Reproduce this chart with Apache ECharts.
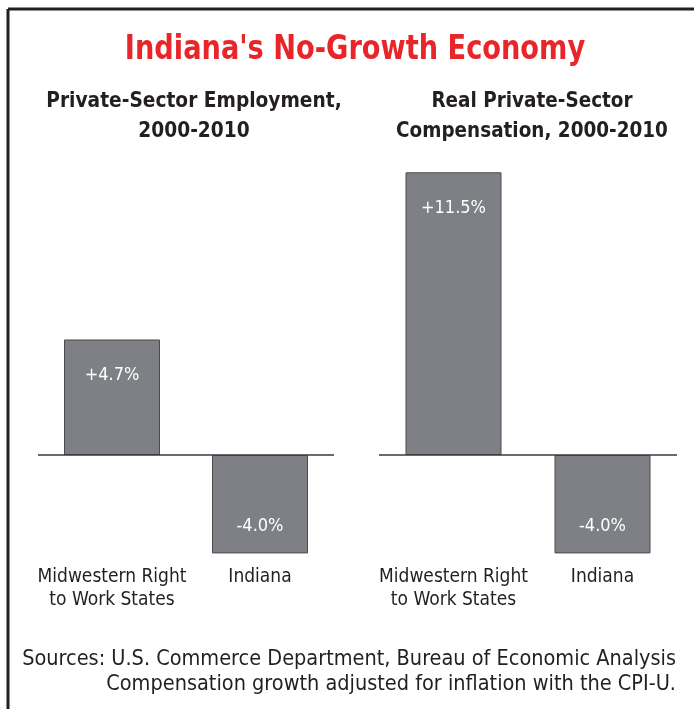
<!DOCTYPE html>
<html>
<head>
<meta charset="utf-8">
<script src="https://cdn.jsdelivr.net/npm/echarts@6/dist/echarts.min.js"></script>
<style>
html,body{margin:0;padding:0;background:#fff;}
#chart{width:694px;height:709px;}
</style>
</head>
<body>
<div id="chart"></div>
<script>
var categories = ['Midwestern Right\nto Work States', 'Indiana'];
var employmentValues = [4.7, -4.0];
var compensationValues = [11.5, -4.0];
var mainTitle = "Indiana's No-Growth Economy";
var leftSubtitle = 'Private-Sector Employment,\n2000-2010';
var rightSubtitle = 'Real Private-Sector\nCompensation, 2000-2010';
var sourceNote = 'Sources: U.S. Commerce Department, Bureau of Economic Analysis\nCompensation growth adjusted for inflation with the CPI-U.';

var FONT = "'Liberation Sans Narrow', 'DejaVu Sans Condensed', 'Arial Narrow', sans-serif";
var BAR = '#7f8085';
var INK = '#231f20';

function fmt(v) { return (v > 0 ? '+' : '') + v.toFixed(1) + '%'; }

function barData(vals) {
  return vals.map(function (v) {
    return {
      value: v,
      label: {
        position: v >= 0 ? 'insideTop' : 'insideBottom',
        distance: v >= 0 ? 27 : 18
      }
    };
  });
}

function barSeries(vals, idx) {
  return {
    type: 'bar',
    xAxisIndex: idx,
    yAxisIndex: idx,
    barWidth: 96,
    data: barData(vals),
    itemStyle: { color: BAR, borderColor: '#4a4a4d', borderWidth: 1 },
    label: {
      show: true,
      color: '#ffffff',
      fontFamily: FONT,
      fontSize: 18,
      formatter: function (p) { return fmt(p.value); }
    },
    markLine: {
      silent: true,
      symbol: 'none',
      label: { show: false },
      lineStyle: { color: '#3a3a3c', width: 1.5, type: 'solid' },
      data: [{ yAxis: 0 }]
    },
    animation: false
  };
}

function xAxis(idx) {
  return {
    type: 'category',
    gridIndex: idx,
    data: categories,
    axisLine: { show: false, onZero: false },
    axisTick: { show: false },
    axisLabel: {
      color: INK,
      fontFamily: FONT,
      fontSize: 19,
      lineHeight: 23,
      margin: -12,
      interval: 0
    }
  };
}
function yAxis(idx) {
  return {
    type: 'value',
    gridIndex: idx,
    min: -5,
    max: 12,
    show: false,
    splitLine: { show: false }
  };
}

function textEl(txt, x, y, font, fill, align, sx, lh) {
  return {
    type: 'text',
    x: x,
    y: y,
    scaleX: sx,
    style: {
      text: txt,
      font: font,
      fill: fill,
      align: align,
      verticalAlign: 'top',
      lineHeight: lh
    }
  };
}

var chart = echarts.init(document.getElementById('chart'), null, { renderer: 'canvas' });

chart.setOption({
  backgroundColor: '#ffffff',
  animation: false,
  grid: [
    { left: 38, width: 296, top: 160, bottom: 131 },
    { left: 379, width: 298, top: 160, bottom: 131 }
  ],
  xAxis: [xAxis(0), xAxis(1)],
  yAxis: [yAxis(0), yAxis(1)],
  series: [barSeries(employmentValues, 0), barSeries(compensationValues, 1)],
  graphic: [
    { type: 'line', shape: { x1: 8, y1: 9, x2: 700, y2: 9 }, style: { stroke: INK, lineWidth: 3 } },
    { type: 'line', shape: { x1: 8, y1: 9, x2: 8, y2: 720 }, style: { stroke: INK, lineWidth: 3 } },
    textEl(mainTitle, 355, 30, 'bold 34px ' + FONT, '#e8262a', 'center', 0.89, 40),
    textEl(leftSubtitle, 194, 86, 'bold 22px ' + FONT, INK, 'center', 0.94, 30),
    textEl(rightSubtitle, 532, 86, 'bold 22px ' + FONT, INK, 'center', 0.93, 30),
    textEl(sourceNote, 676, 647, '21.5px ' + FONT, INK, 'right', 1.0, 25)
  ]
});
</script>
</body>
</html>
